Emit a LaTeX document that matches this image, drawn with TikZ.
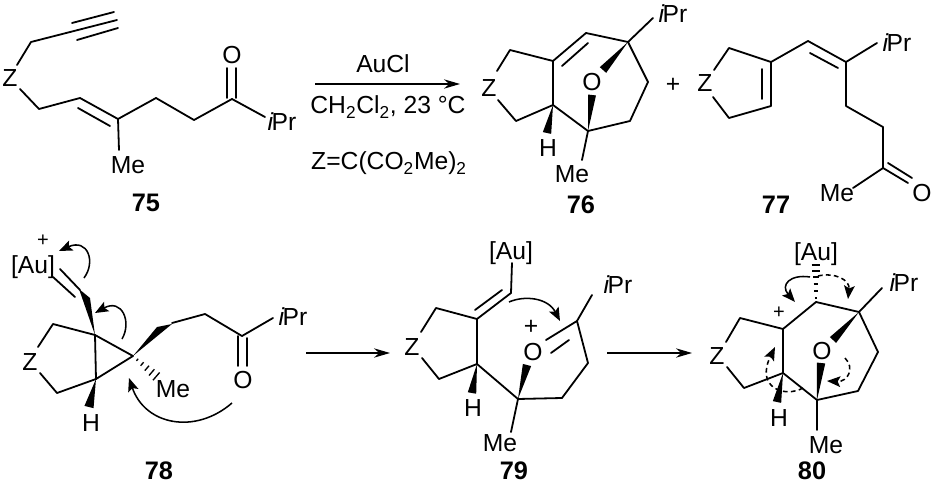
\documentclass[tikz,border=0pt]{standalone}
\usepackage{fontspec}
\setmainfont{Liberation Sans}
\usetikzlibrary{arrows.meta,calc}
\tikzset{
  bond/.style={line width=1.35pt,line cap=round,line join=round},
  lbl/.style={font=\fontsize{18.5}{20}\selectfont,inner sep=0pt,text=black},
  num/.style={font=\fontsize{19}{20}\selectfont\bfseries,inner sep=0pt},
  rxn/.style={line width=0.9pt,-{Stealth[length=12pt,width=7pt]}},
  curved/.style={line width=1.15pt,-{Stealth[length=10pt,width=8pt,inset=2pt]}},
  dcurved/.style={line width=1.15pt,dash pattern=on 3.5pt off 2.5pt,-{Stealth[length=10pt,width=8pt,inset=2pt]}},
}
\newcommand{\wdg}[3]{\fill (#1) -- ($(#2)!#3!90:(#1)$) -- ($(#2)!#3!-90:(#1)$) -- cycle;}
\newcommand{\ipr}{\textit{i}\kern-1.6pt Pr}
\begin{document}
\begin{tikzpicture}[x=0.75pt,y=-0.75pt]
\useasboundingbox (0,0) rectangle (933,485);
% ---------- 75 ----------
\node[lbl] (z75) at (10,78) {Z};
\node[lbl] (me75) at (128,165) {Me};
\node[lbl] (o75) at (232,55) {O};
\node[lbl] (pr75) at (282,122) {\ipr};
\node[num] (n75) at (146,203) {75};
\draw[bond] (17,65) -- (31,42) -- (117,20);
\draw[bond] (72,23) -- (114,12);
\draw[bond] (77,40) -- (118,28);
\draw[bond] (20,89) -- (39,109) -- (80,98) -- (118,119) -- (156,98) -- (194,120) -- (232,99) -- (265,117);
\draw[bond] (78,108) -- (110,126);
\draw[bond] (118,119) -- (119,150);
\draw[bond] (227,98) -- (227,68);
\draw[bond] (236,98) -- (236,68);
% ---------- reagents ----------
\coordinate (r1a) at (315,84);
\coordinate (r1b) at (460,84);
\draw[rxn] (r1a) -- (r1b);
\node[lbl] (auc) at (383,64) {AuCl};
\node[lbl,anchor=base] (cond) at (388,114) {CH\textsubscript{2}Cl\textsubscript{2}, 23 °C};
\node[lbl,anchor=base] (zdef) at (389,170) {Z=C(CO\textsubscript{2}Me)\textsubscript{2}};
% ---------- 76 ----------
\node[lbl] (z76) at (489,88) {Z};
\node[lbl] (o76) at (592,82) {O};
\node[lbl] (h76) at (548,148) {H};
\node[lbl] (me76) at (572,174) {Me};
\node[lbl] (pr76) at (673,14) {\ipr};
\node[num] (n76) at (581,205) {76};
\node[lbl] (plus) at (673,85) {+};
\draw[bond] (497,71) -- (510,50) -- (553,61) -- (586,33) -- (628,42) -- (648,82) -- (630,121) -- (588,131) -- (553,105) -- (516,121) -- (498,100);
\draw[bond] (553,61) -- (553,105);
\draw[bond] (562,66) -- (588,43);
\draw[bond] (628,42) -- (653,18);
\draw[bond] (588,131) -- (582,160);
\wdg{628,42}{603,70}{3.2pt}
\wdg{588,131}{592,95}{3pt}
\wdg{553,105}{547,133}{3.2pt}
% ---------- 77 ----------
\node[lbl] (z77) at (705,83) {Z};
\node[lbl] (pr77) at (897,43) {\ipr};
\node[lbl] (me77) at (837,193) {Me};
\node[lbl] (o77) at (922,193) {O};
\node[num] (n77) at (776,205) {77};
\draw[bond] (714,70) -- (729,48) -- (771,62) -- (771,106) -- (729,118) -- (713,97);
\draw[bond] (762,69) -- (762,99);
\draw[bond] (771,62) -- (808,41) -- (846,62) -- (877,43);
\draw[bond] (810,53) -- (838,68);
\draw[bond] (846,62) -- (846,106) -- (883,127) -- (883,168) -- (853,188);
\draw[bond] (883,168) -- (908,183);
\draw[bond] (888,163) -- (912,178);
% ---------- 78 ----------
\node[lbl] (au78) at (33,267) {[Au]};
\node[lbl,font=\fontsize{15}{18}\selectfont] (pl78) at (43,241) {+};
\node[lbl] (z78) at (30,362) {Z};
\node[lbl] (h78) at (91,423) {H};
\node[lbl] (me78) at (173,389) {Me};
\node[lbl] (o78) at (243,380) {O};
\node[lbl] (pr78) at (293,317) {\ipr};
\node[num] (n78) at (159,471) {78};
\draw[bond] (60,269) -- (80,290);
\draw[bond] (53,277) -- (75,297);
\fill (95,335) -- (79,289) -- (90,298) -- cycle;
\draw[bond] (38,347) -- (53,324) -- (95,335) -- (133,356) -- (96,379) -- (57,393) -- (40,373);
\draw[bond] (95,335) -- (96,379);
\fill (133,356) -- (157,327) -- (172,324) -- cycle;
\draw[bond] (172,323) -- (205,314) -- (242,336) -- (273,318);
\draw[bond] (238,336) -- (238,366);
\draw[bond] (247,338) -- (247,366);
\foreach \t/\w in {0.18/1.5,0.38/2.5,0.58/3.5,0.78/4.5,0.97/5.5}
  \draw[line width=1pt] ($(133,356)!\t!(157,377)+(-\w*0.6,\w*0.7)$) -- ($(133,356)!\t!(157,377)+(\w*0.6,-\w*0.7)$);
\wdg{96,379}{89,407}{3.5pt}
\draw[curved] (84,278) .. controls (96,262) and (88,238) .. (59,251);
\draw[curved] (122,339) .. controls (132,322) and (122,298) .. (95,313);
\draw[curved] (232,403) .. controls (195,435) and (145,425) .. (129,378);
% reaction arrows
\coordinate (r2a) at (306,353);
\coordinate (r2b) at (390,353);
\coordinate (r3a) at (607,353);
\coordinate (r3b) at (692,353);
\draw[rxn] (r2a) -- (r2b);
\draw[rxn] (r3a) -- (r3b);
% ---------- 79 ----------
\node[lbl] (au79) at (511,253) {[Au]};
\node[lbl] (z79) at (412,347) {Z};
\node[lbl] (o79) at (533,352) {O};
\node[lbl] (pl79) at (531,327) {+};
\node[lbl] (h79) at (473,408) {H};
\node[lbl] (me79) at (500,443) {Me};
\node[lbl] (pr79) at (618,285) {\ipr};
\node[num] (n79) at (514,471) {79};
\draw[bond] (421,332) -- (436,308) -- (477,319) -- (477,364) -- (439,379) -- (422,358);
\draw[bond] (477,319) -- (511,293) -- (512,263);
\draw[bond] (475,310) -- (502,290);
\draw[bond] (477,364) -- (518,399) -- (562,398) -- (588,363) -- (577,321) -- (546,340);
\draw[bond] (551,353) -- (569,340);
\draw[bond] (577,321) -- (592,295);
\draw[bond] (518,399) -- (511,432);
\wdg{518,399}{527,365}{3.2pt}
\wdg{477,364}{472,393}{3.2pt}
\draw[curved] (509,302) .. controls (525,295) and (548,298) .. (560,321);
% ---------- 80 ----------
\node[lbl] (au80) at (816,254) {[Au]};
\node[lbl] (z80) at (717,356) {Z};
\node[lbl] (o80) at (822,351) {O};
\node[lbl] (h80) at (779,418) {H};
\node[lbl] (me80) at (826,445) {Me};
\node[lbl] (pr80) at (904,283) {\ipr};
\node[lbl,font=\fontsize{15}{18}\selectfont] (pl80) at (779,313) {+};
\node[num] (n80) at (812,471) {80};
\draw[bond] (726,342) -- (740,318) -- (783,329) -- (816,302) -- (859,312) -- (878,352) -- (858,391) -- (817,400) -- (783,373) -- (744,388) -- (727,367);
\draw[bond] (783,329) -- (783,373);
\draw[bond] (859,312) -- (882,288);
\draw[bond] (817,400) -- (817,430);
\wdg{859,312}{833,340}{3.2pt}
\wdg{817,400}{821,363}{3.2pt}
\wdg{783,373}{777,402}{3.2pt}
\foreach \y/\w in {298/1.2,291/1.8,284/2.4,277/3,271/3.6,265/4.4}
  \draw[line width=1pt] (816-\w,\y) -- (816+\w,\y);
\draw[curved] (810,277) .. controls (790,274) and (780,285) .. (795,302);
\draw[dcurved] (818,276) .. controls (835,272) and (850,280) .. (848,299);
\draw[dcurved] (845,358) .. controls (855,368) and (848,382) .. (827,381);
\draw[dcurved] (803,388) .. controls (785,398) and (755,388) .. (775,347);
\end{tikzpicture}
\end{document}
